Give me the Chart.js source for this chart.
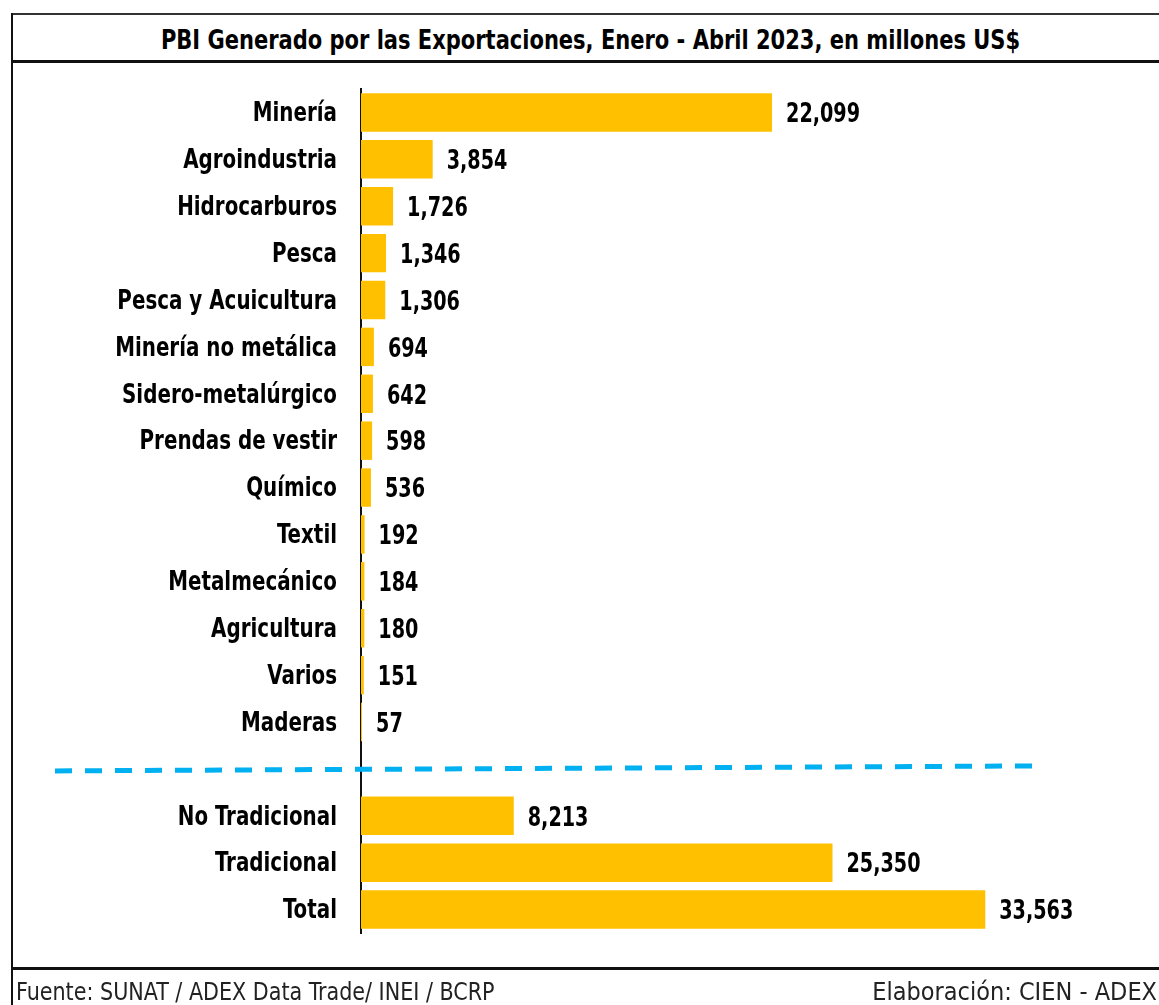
<!DOCTYPE html>
<html>
<head>
<meta charset="utf-8">
<script src="https://cdn.jsdelivr.net/npm/chart.js@4.4.0/dist/chart.umd.min.js"></script>
<style>
  body { margin: 0; background: #fff; }
  #page { position: relative; width: 1159px; height: 1005px; overflow: hidden;
          font-family: "Liberation Sans Narrow", "DejaVu Sans Condensed", sans-serif; }
  .line { position: absolute; background: #111; }
  #title { position: absolute; left: 22px; right: 0; top: 24px; text-align: center;
           font-size: 27px; font-weight: bold; color: #000;
           transform: scaleX(0.865); transform-origin: center; }
  .foot { position: absolute; top: 977px; font-size: 25px; color: #222; white-space: nowrap; }
  #chartBox { position: absolute; left: 0; top: 0; width: 1159px; height: 1005px; }
</style>
</head>
<body>
<div id="page">
  <div class="line" style="left:12px; top:13px; width:1147px; height:2px; background:#333"></div>
  <div class="line" style="left:12px; top:60px; width:1147px; height:3px"></div>
  <div class="line" style="left:12px; top:967px; width:1147px; height:3px"></div>
  <div class="line" style="left:11px; top:13px; width:2px; height:992px"></div>
  <div id="title">PBI Generado por las Exportaciones, Enero - Abril 2023, en millones US$</div>
  <div id="chartBox"><canvas id="myChart"></canvas></div>
  <div class="foot" style="left:16px; transform:scaleX(0.92); transform-origin:left">Fuente: SUNAT / ADEX Data Trade/ INEI / BCRP</div>
  <div class="foot" style="right:2px">Elaboración: CIEN - ADEX</div>
</div>
<script>
// sectors, then an empty slot for the dashed separator, then the totals
const sectores = ["Minería", "Agroindustria", "Hidrocarburos", "Pesca", "Pesca y Acuicultura",
  "Minería no metálica", "Sidero-metalúrgico", "Prendas de vestir", "Químico", "Textil",
  "Metalmecánico", "Agricultura", "Varios", "Maderas"];
const valoresSectores = [22099, 3854, 1726, 1346, 1306, 694, 642, 598, 536, 192, 184, 180, 151, 57];
const totales = ["No Tradicional", "Tradicional", "Total"];
const valoresTotales = [8213, 25350, 33563];

const labels = [...sectores, "", ...totales];
const values = [...valoresSectores, null, ...valoresTotales];
const separatorIndex = sectores.length;

const FONT = '"Liberation Sans Narrow", "DejaVu Sans Condensed", sans-serif';

// no narrow font installed, so canvas text is squeezed horizontally a little
function squeezedText(ctx, text, x, y, size, squeeze, align) {
  ctx.save();
  ctx.translate(x, y);
  ctx.scale(squeeze, 1);
  ctx.font = "bold " + size + "px " + FONT;
  ctx.fillStyle = "#000";
  ctx.textBaseline = "middle";
  ctx.textAlign = align;
  ctx.fillText(text, 0, 0);
  ctx.restore();
}

// category names, placed with the y scale
const categoryLabels = {
  id: "categoryLabels",
  afterDraw(chart) {
    const yScale = chart.scales.y;
    const right = chart.chartArea.left - 24;
    chart.data.labels.forEach((lab, i) => {
      if (!lab) return;
      squeezedText(chart.ctx, lab, right, yScale.getPixelForValue(i) + 2, 26, 0.85, "right");
    });
  }
};

// writes the value next to each bar
const valueLabels = {
  id: "valueLabels",
  afterDatasetsDraw(chart) {
    const meta = chart.getDatasetMeta(0);
    meta.data.forEach((bar, i) => {
      const v = values[i];
      if (v == null) return;
      squeezedText(chart.ctx, v.toLocaleString("en-US"), bar.x + 14, bar.y + 3, 26, 0.82, "left");
    });
  }
};

// blue dashed line in the empty slot between sectors and totals
const separator = {
  id: "separator",
  afterDraw(chart) {
    const ctx = chart.ctx;
    const y = chart.scales.y.getPixelForValue(separatorIndex);
    ctx.save();
    ctx.strokeStyle = "#00B0F0";
    ctx.lineWidth = 5;
    ctx.setLineDash([17, 13]);
    ctx.beginPath();
    ctx.moveTo(55, y + 2);
    ctx.lineTo(1042, y - 3);
    ctx.stroke();
    ctx.restore();
  }
};

const config = {
  type: "bar",
  data: {
    labels: labels,
    datasets: [{
      data: values,
      backgroundColor: "#FFC000",
      borderWidth: 0,
      barPercentage: 0.82,
      categoryPercentage: 1
    }]
  },
  options: {
    indexAxis: "y",
    responsive: true,
    maintainAspectRatio: false,
    animation: false,
    layout: { padding: { top: 89, bottom: 72, right: 54, left: 0 } },
    plugins: {
      legend: { display: false },
      tooltip: { enabled: false }
    },
    scales: {
      x: { display: false, min: 0, max: 40000 },
      y: {
        grid: { display: false, drawTicks: false },
        border: { display: true, color: "#111", width: 2 },
        ticks: { display: false, autoSkip: false },
        afterFit(scale) { scale.width = 361; }
      }
    }
  },
  plugins: [categoryLabels, valueLabels, separator]
};

const ctx = document.getElementById("myChart").getContext("2d");
const myChart = new Chart(ctx, config);
</script>
</body>
</html>
